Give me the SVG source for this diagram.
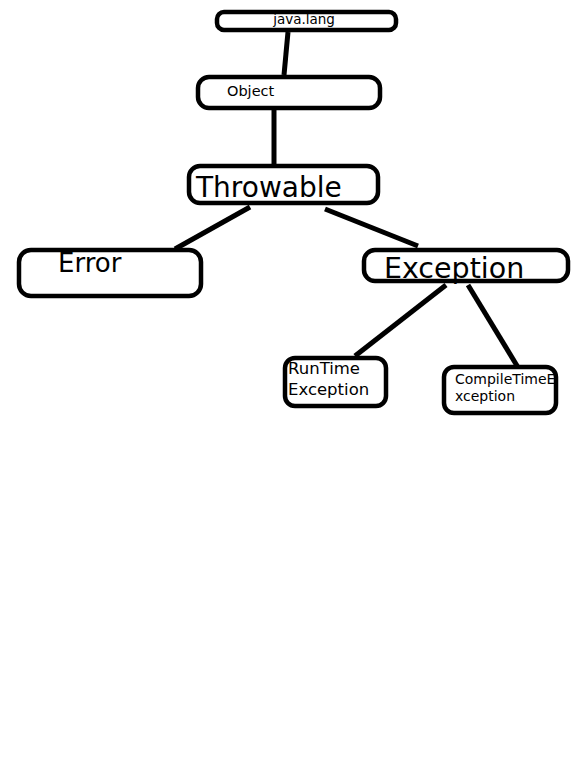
<svg xmlns="http://www.w3.org/2000/svg" width="580" height="779" viewBox="0 0 580 779">
<style>
.box{fill:#fff;stroke:#000;stroke-width:4.5}
.t{font-family:"DejaVu Sans",sans-serif;fill:#000}
.c{stroke:#000;stroke-width:5;stroke-linecap:butt;fill:none}
</style>
<rect width="580" height="779" fill="#fff"/>
<g id="connectors">
<line class="c" x1="288" y1="32" x2="284" y2="75"/>
<line class="c" x1="274" y1="110" x2="274" y2="164"/>
<line class="c" x1="250" y1="207" x2="175" y2="249"/>
<line class="c" x1="325" y1="209" x2="418" y2="246"/>
<line class="c" x1="446" y1="285" x2="355" y2="356"/>
<line class="c" x1="468" y1="285" x2="519" y2="369"/>
</g>
<g id="javalang">
<rect class="box" x="217" y="12" width="179" height="18" rx="7"/>
<text class="t" x="304" y="24" font-size="13.5" text-anchor="middle">java.lang</text>
</g>
<g id="object">
<rect class="box" x="198" y="77" width="182" height="31" rx="11"/>
<text class="t" x="227" y="96" font-size="14.5">Object</text>
</g>
<g id="throwable">
<rect class="box" x="189" y="166" width="189" height="37" rx="11"/>
<text class="t" x="196" y="197" font-size="28">Throwable</text>
</g>
<g id="error">
<rect class="box" x="19" y="250" width="182" height="46" rx="12"/>
<text class="t" x="58" y="272" font-size="26">Error</text>
</g>
<g id="exception">
<rect class="box" x="364" y="250" width="204" height="31" rx="11"/>
<text class="t" x="384" y="278" font-size="28.5">Exception</text>
</g>
<g id="runtime">
<rect class="box" x="285" y="358" width="101" height="48" rx="10"/>
<text class="t" x="288" y="374" font-size="16.5">RunTime</text>
<text class="t" x="288" y="395" font-size="16.5">Exception</text>
</g>
<g id="compiletime">
<rect class="box" x="444" y="367" width="112" height="46" rx="10"/>
<text class="t" x="455" y="384" font-size="14">CompileTimeE</text>
<text class="t" x="455" y="401" font-size="14">xception</text>
</g>
</svg>
